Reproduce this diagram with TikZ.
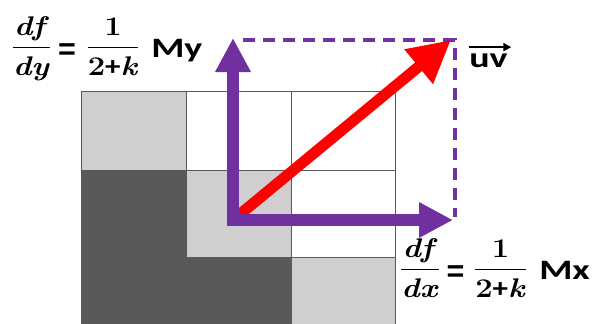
\documentclass[tikz,border=0pt]{standalone}
\usepackage{amsmath}
\usepackage{graphicx}
\usepackage{fontspec}
\usepackage{tikz}
\usetikzlibrary{
    positioning,
    arrows.meta
}
\newfontfamily\calibri{Carlito}
\newfontfamily\arial{Liberation Sans}
\newcommand{\bi}[1]{\textbf{\textit{#1}}}
\definecolor{cellgray}{HTML}{D0CECE}
\definecolor{celldark}{HTML}{595959}
\definecolor{vpurple}{HTML}{7030A0}
\tikzset{
    cell/.style={
        draw=black!65,
        line width=0.3mm
    },
    axis vec/.style={
        draw=vpurple,
        line width=3.6mm,
        line join=miter,
        {Triangle[length=10.2mm,width=10mm]}-{Triangle[length=10.2mm,width=10mm]}
    },
    uv vec/.style={
        draw=red,
        line width=3.3mm,
        -{Triangle[length=12.6mm,width=12.6mm]}
    },
    guide/.style={
        draw=vpurple,
        line width=1.3mm,
        dash pattern=on 3.6mm off 2.4mm
    },
    frac/.style={
        font=\fontsize{23}{27}\selectfont,
        inner sep=0pt,
        anchor=base,
        xscale=1.15,
        transform shape
    },
    eqsign/.style={
        font=\fontsize{26}{30}\selectfont\arial\bfseries,
        inner sep=0pt,
        anchor=base
    },
    word/.style={
        font=\fontsize{24}{28}\selectfont\calibri\bfseries,
        inner sep=0pt,
        anchor=base west,
        xscale=1.35,
        transform shape
    }
}

\begin{document}
\begin{tikzpicture}[
    x=0.3mm,
    y=-0.3mm
]
    \clip (0,0) rectangle (594,323);

    % Raster
    \foreach \xa/\xb/\ya/\yb/\fillc in {
            81/186.5/91/170/cellgray, 186.5/291/91/170/white, 291/395/91/170/white,
            81/186.5/170/257/celldark, 186.5/291/170/257/cellgray, 291/395/170/257/white,
            81/186.5/257/345/celldark, 186.5/291/257/345/celldark, 291/395/257/345/cellgray}
        \path[cell, fill=\fillc] (\xa,\ya) rectangle (\xb,\yb);

    % Vektoren
    \coordinate (o)    at (233,220);
    \coordinate (ytip) at (233,38);
    \coordinate (xtip) at (453,220);
    \coordinate (uvtip) at (451,40);
    \coordinate (dtop) at (243,40);
    \coordinate (dend) at (455,217);

    \draw[guide] (dtop) -| (dend);
    \draw[uv vec] (o) -- (uvtip);
    \draw[axis vec] (ytip) |- (xtip);

    % df/dy oben links
    \node[frac]   (dfdy) at (31.5,55) {$\dfrac{\bi{df}}{\bi{dy}}$};
    \node[eqsign] (eqy)  at (67,59)   {=};
    \node[frac]   (ky)   at (113,55)  {$\dfrac{\textbf{1}}{\textbf{2}\text{\calibri\bfseries +}\bi{k}}$};
    \node[word]   (my)   at (151,57)  {My};

    % df/dx unten rechts
    \node[frac]   (dfdx) at (420,277) {$\dfrac{\bi{df}}{\bi{dx}}$};
    \node[eqsign] (eqx)  at (455.5,281) {=};
    \node[frac]   (kx)   at (500.5,277) {$\dfrac{\textbf{1}}{\textbf{2}\text{\calibri\bfseries +}\bi{k}}$};
    \node[word]   (mx)   at (539,279) {Mx};

    % Vektorname
    \node[word] (uvlbl) at (469,67) {uv};
    \draw[line width=0.6mm, -{Triangle[length=2.4mm,width=2.4mm]}]
        ([yshift=1.8mm]uvlbl.north west) -- ([yshift=1.8mm, xshift=1mm]uvlbl.north east);

\end{tikzpicture}
\end{document}
